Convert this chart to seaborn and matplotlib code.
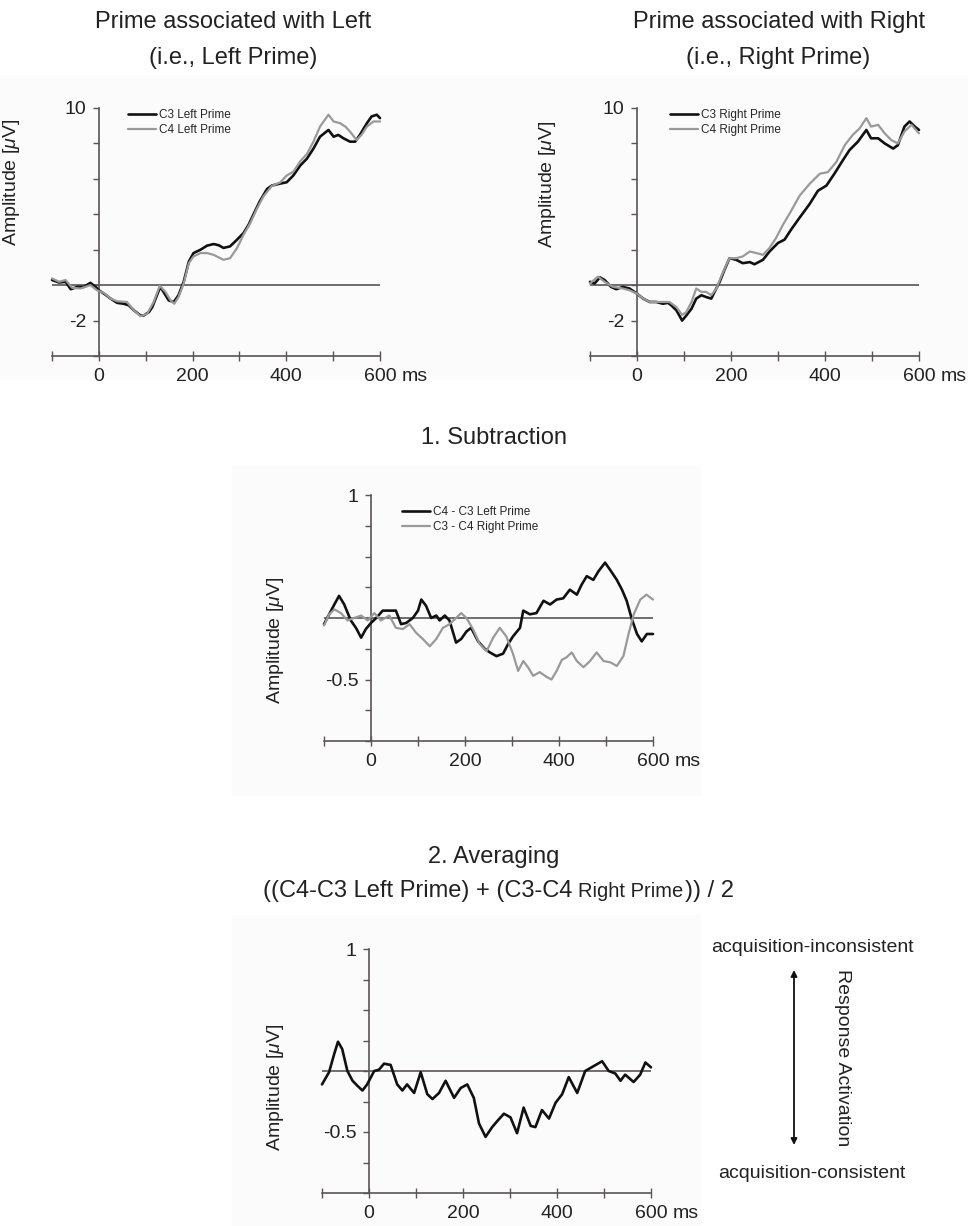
import numpy as np
import pandas as pd
import seaborn as sns
import matplotlib.pyplot as plt
from matplotlib.patches import Rectangle

# time points (ms) and amplitudes (uV)
t_c3_left = [-100, -85, -71, -60, -46, -32, -18, -7, 0, 11, 25, 39, 53, 64, 75, 89, 96, 107, 114,
             124, 131, 138, 149, 160, 170, 181, 192, 202, 217, 231, 245, 256, 266, 280, 295, 309,
             320, 330, 344, 359, 369, 383, 401, 415, 430, 444, 458, 472, 490, 501, 511, 522, 536,
             547, 557, 572, 582, 593, 600]
c3_left = [0.29, 0.15, 0.19, -0.23, -0.10, -0.10, 0.13, -0.10, -0.29, -0.48, -0.76, -1.00, -1.05,
           -1.14, -1.43, -1.71, -1.71, -1.52, -1.24, -0.57, -0.10, -0.38, -0.86, -0.95, -0.57, 0.19,
           1.33, 1.81, 2.00, 2.23, 2.32, 2.25, 2.10, 2.19, 2.57, 2.95, 3.43, 4.00, 4.76, 5.43, 5.62,
           5.71, 5.81, 6.19, 6.76, 7.14, 7.71, 8.38, 8.76, 8.38, 8.48, 8.29, 8.10, 8.10, 8.48, 9.14,
           9.52, 9.62, 9.43]

t_c4_left = [-100, -85, -71, -57, -39, -18, -4, 11, 25, 39, 60, 75, 89, 103, 117, 130, 142, 153,
             161, 170, 181, 192, 202, 217, 231, 245, 266, 280, 295, 309, 323, 337, 351, 369, 387,
             401, 415, 430, 444, 458, 472, 490, 501, 515, 526, 536, 550, 561, 572, 586, 600]
c4_left = [0.38, 0.19, 0.29, -0.15, -0.19, 0.00, -0.29, -0.44, -0.76, -0.91, -0.95, -1.43, -1.75,
           -1.62, -0.95, -0.04, -0.38, -0.86, -1.05, -0.67, 0.10, 1.24, 1.62, 1.81, 1.81, 1.71,
           1.43, 1.52, 2.10, 2.86, 3.50, 4.30, 5.00, 5.60, 5.80, 6.19, 6.40, 7.00, 7.40, 8.10,
           8.95, 9.62, 9.24, 9.14, 8.95, 8.67, 8.19, 8.50, 8.95, 9.24, 9.24]

t_c3_right = [-100, -90, -79, -69, -55, -44, -30, -16, 0, 13, 27, 41, 55, 66, 73, 84, 96, 105, 116,
              126, 137, 147, 158, 165, 176, 186, 197, 211, 225, 240, 250, 268, 282, 300, 314, 328,
              346, 367, 385, 403, 420, 438, 452, 470, 488, 498, 513, 527, 545, 555, 569, 580, 591,
              600]
c3_right = [0.19, 0.10, 0.44, 0.29, -0.10, -0.23, -0.10, -0.19, -0.48, -0.76, -0.95, -0.95, -1.05,
            -1.00, -1.14, -1.43, -2.00, -1.71, -1.33, -0.76, -0.57, -0.67, -0.76, -0.38, 0.19, 0.86,
            1.52, 1.43, 1.24, 1.30, 1.18, 1.43, 1.90, 2.38, 2.57, 3.14, 3.81, 4.57, 5.33, 5.62,
            6.29, 7.05, 7.62, 8.10, 8.76, 8.29, 8.29, 8.00, 7.71, 7.90, 8.95, 9.24, 8.95, 8.76]

t_c4_right = [-100, -83, -69, -51, -30, -16, 0, 13, 27, 48, 69, 84, 96, 105, 116, 126, 137, 147,
              158, 169, 179, 190, 197, 211, 225, 240, 254, 268, 282, 296, 311, 328, 346, 367, 389,
              406, 424, 442, 459, 474, 488, 498, 513, 527, 541, 555, 569, 584, 600]
c4_right = [0.10, 0.48, 0.19, -0.10, -0.19, -0.29, -0.48, -0.76, -0.95, -0.95, -0.95, -1.24, -1.68,
            -1.52, -0.95, -0.19, -0.38, -0.38, -0.57, -0.19, 0.48, 1.14, 1.52, 1.52, 1.62, 1.90,
            1.81, 1.71, 2.10, 2.67, 3.43, 4.19, 5.05, 5.71, 6.29, 6.38, 6.95, 7.90, 8.48, 8.86,
            9.43, 8.95, 9.05, 8.57, 8.19, 8.00, 8.67, 9.05, 8.57]

t_diff_left = [-100, -89, -78, -68, -57, -43, -32, -21, -11, 0, 11, 25, 39, 53, 64, 75, 89, 100,
               107, 117, 128, 139, 146, 157, 167, 181, 192, 203, 213, 228, 242, 253, 267, 281, 292,
               302, 317, 324, 338, 352, 367, 381, 395, 409, 423, 438, 448, 459, 473, 484, 498, 509,
               523, 534, 544, 555, 566, 576, 587, 600]
diff_left = [-0.05, 0.03, 0.11, 0.18, 0.11, -0.02, -0.08, -0.16, -0.09, -0.04, 0.00, 0.06, 0.06,
             0.06, -0.05, -0.04, 0.00, 0.06, 0.15, 0.10, 0.00, 0.02, -0.02, 0.02, -0.02, -0.20,
             -0.17, -0.11, -0.08, -0.19, -0.25, -0.28, -0.31, -0.29, -0.21, -0.15, -0.08, 0.06,
             0.03, 0.04, 0.14, 0.11, 0.15, 0.16, 0.23, 0.19, 0.27, 0.34, 0.31, 0.38, 0.45, 0.39,
             0.31, 0.23, 0.14, -0.01, -0.13, -0.19, -0.13, -0.13]

t_diff_right = [-100, -89, -78, -64, -50, -36, -21, -7, 7, 21, 39, 53, 68, 82, 96, 110, 125, 139,
                153, 167, 181, 192, 203, 217, 231, 246, 260, 274, 288, 302, 313, 324, 334, 345,
                359, 374, 384, 395, 406, 416, 427, 438, 452, 466, 480, 495, 509, 523, 537, 548,
                559, 573, 586, 600]
diff_right = [-0.06, 0.03, 0.07, 0.04, -0.02, 0.00, 0.02, -0.02, 0.04, -0.02, 0.02, -0.08, -0.09,
              -0.05, -0.12, -0.17, -0.23, -0.17, -0.08, -0.05, 0.00, 0.04, 0.00, -0.09, -0.21,
              -0.27, -0.16, -0.08, -0.15, -0.29, -0.43, -0.35, -0.40, -0.47, -0.44, -0.48, -0.50,
              -0.43, -0.34, -0.32, -0.28, -0.35, -0.40, -0.35, -0.28, -0.35, -0.36, -0.39, -0.31,
              -0.13, 0.03, 0.15, 0.19, 0.15]

t_avg = [-100, -85, -74, -66, -57, -46, -35, -25, -14, -4, 11, 21, 32, 46, 60, 71, 81, 96, 110,
         124, 135, 149, 163, 181, 195, 209, 223, 234, 248, 262, 273, 287, 301, 315, 329, 344, 354,
         368, 383, 397, 411, 425, 443, 460, 478, 496, 510, 524, 535, 545, 563, 577, 588, 600]
avg = [-0.11, -0.01, 0.14, 0.24, 0.18, 0.00, -0.08, -0.12, -0.16, -0.11, 0.00, 0.01, 0.06, 0.05,
       -0.11, -0.16, -0.11, -0.18, -0.01, -0.19, -0.23, -0.18, -0.08, -0.22, -0.14, -0.11, -0.22,
       -0.43, -0.54, -0.46, -0.41, -0.35, -0.38, -0.51, -0.30, -0.45, -0.46, -0.32, -0.39, -0.26,
       -0.19, -0.05, -0.18, 0.00, 0.04, 0.08, 0.00, -0.02, -0.08, -0.03, -0.09, -0.03, 0.07, 0.03]

x_ticks = [-100, 0, 100, 200, 300, 400, 500, 600]
x_ticklabels = ['', '0', '', '200', '', '400', '', '600']

sns.set_theme(style='white')
plt.rcParams['font.family'] = ['Liberation Sans', 'DejaVu Sans']
plt.rcParams['mathtext.fontset'] = 'custom'
plt.rcParams['mathtext.it'] = 'Liberation Sans:italic'
plt.rcParams['mathtext.rm'] = 'Liberation Sans'

W, H = 968, 1226
AXC = '#5a5555'
TXT = '#222222'


def fx(px):
    return px / W


def fy(py):
    return 1 - py / H


def draw_panel(rect, traces, ylim, yticks, ylabels, label_pos, legend_pos=None):
    left, right, top, bottom = rect
    ax = fig.add_axes([fx(left), fy(bottom), fx(right - left), (bottom - top) / H])
    ax.set_facecolor('none')
    for t, v, name, col, lw in traces:
        df = pd.DataFrame({'ms': t, 'uV': v})
        sns.lineplot(data=df, x='ms', y='uV', color=col, lw=lw, label=name,
                     estimator=None, sort=False, ax=ax, clip_on=False, zorder=3)
    ax.axhline(0, color=AXC, lw=1.2, zorder=2)
    ax.set_xlim(-100, 600)
    ax.set_ylim(*ylim)
    for s in ['top', 'right']:
        ax.spines[s].set_visible(False)
    ax.spines['left'].set_position(('data', 0))
    for s in ['left', 'bottom']:
        ax.spines[s].set_color(AXC)
        ax.spines[s].set_linewidth(1.2)
    ax.set_xticks(x_ticks)
    ax.set_xticklabels(x_ticklabels)
    ax.set_yticks(yticks)
    ax.set_yticklabels(ylabels)
    ax.tick_params(axis='y', direction='out', length=4, width=1, color=AXC,
                   labelsize=14, labelcolor=TXT, pad=5, left=True)
    ax.tick_params(axis='x', direction='inout', length=7, width=1, color=AXC,
                   labelsize=14, labelcolor=TXT, pad=5, bottom=True)
    ax.set_xlabel('')
    ax.set_ylabel('Amplitude [$\\mu$V]', fontsize=14, color=TXT)
    ax.yaxis.set_label_coords(*label_pos)
    ax.annotate('ms', xy=(600, ylim[0]), xytext=(15.5, -8.5), textcoords='offset points',
                ha='left', va='top', fontsize=14, color=TXT, annotation_clip=False)
    if legend_pos is not None:
        ax.legend(loc='upper left', bbox_to_anchor=legend_pos, frameon=False, fontsize=8.5,
                  handlelength=2.4, handletextpad=0.2, labelspacing=0.25, borderpad=0,
                  borderaxespad=0)
    elif ax.get_legend() is not None:
        ax.get_legend().remove()
    return ax


fig = plt.figure(figsize=(W / 100, H / 100), dpi=100)

# faint scan-like backgrounds behind the panels
for (x0, y0, x1, y1) in [(0, 75, 968, 378), (232, 466, 700, 795), (232, 915, 700, 1226)]:
    fig.add_artist(Rectangle((fx(x0), fy(y1)), fx(x1 - x0), (y1 - y0) / H,
                             transform=fig.transFigure, color='#fbfbfb', zorder=-5))

big_ticks = list(range(-4, 11, 2))
big_labels = ['' if v not in (10, -2) else str(v) for v in big_ticks]
small_ticks = [-1, -0.75, -0.5, -0.25, 0, 0.25, 0.5, 0.75, 1]
small_labels = ['', '', '-0.5', '', '', '', '', '', '1']

draw_panel((52, 380, 108, 356),
           [(t_c3_left, c3_left, 'C3 Left Prime', '#111111', 1.9),
            (t_c4_left, c4_left, 'C4 Left Prime', '#999999', 1.6)],
           (-4, 10), big_ticks, big_labels, (-0.091, 0.70), (0.232, 0.995))

draw_panel((590, 919, 108, 356),
           [(t_c3_right, c3_right, 'C3 Right Prime', '#111111', 1.9),
            (t_c4_right, c4_right, 'C4 Right Prime', '#999999', 1.6)],
           (-4, 10), big_ticks, big_labels, (-0.097, 0.69), (0.243, 0.995))

draw_panel((324, 653, 495, 741),
           [(t_diff_left, diff_left, 'C4 - C3 Left Prime', '#111111', 1.9),
            (t_diff_right, diff_right, 'C3 - C4 Right Prime', '#999999', 1.6)],
           (-1, 1), small_ticks, small_labels, (-0.116, 0.41), (0.237, 0.955))

draw_panel((322, 651, 949, 1193),
           [(t_avg, avg, None, '#111111', 1.9)],
           (-1, 1), small_ticks, small_labels, (-0.109, 0.434))

# titles
fig.text(fx(233), fy(22), 'Prime associated with Left', ha='center', va='center',
         fontsize=17, color=TXT)
fig.text(fx(233), fy(58), '(i.e., Left Prime)', ha='center', va='center', fontsize=17, color=TXT)
fig.text(fx(779), fy(22), 'Prime associated with Right', ha='center', va='center',
         fontsize=17, color=TXT)
fig.text(fx(778), fy(58), '(i.e., Right Prime)', ha='center', va='center', fontsize=17, color=TXT)
fig.text(fx(494), fy(438), '1. Subtraction', ha='center', va='center', fontsize=17, color=TXT)
fig.text(fx(494), fy(857), '2. Averaging', ha='center', va='center', fontsize=17, color=TXT)

# formula line, "Right Prime" set a little smaller, all parts on one baseline
base_y = fy(897)
t1 = fig.text(fx(263), base_y, '((C4-C3 Left Prime) + (C3-C4', ha='left', va='baseline',
              fontsize=17, color=TXT)
fig.canvas.draw()
x_end = t1.get_window_extent().x1
t2 = fig.text((x_end + 6) / W, base_y, 'Right Prime', ha='left', va='baseline',
              fontsize=14.5, color=TXT)
fig.canvas.draw()
x_end = t2.get_window_extent().x1
fig.text((x_end + 1) / W, base_y, ')) / 2', ha='left', va='baseline', fontsize=17, color=TXT)

# response activation arrow
fig.text(fx(812), fy(948), 'acquisition-inconsistent', ha='center', va='center',
         fontsize=14, color=TXT)
fig.text(fx(812), fy(1173), 'acquisition-consistent', ha='center', va='center',
         fontsize=14, color=TXT)
fig.text(fx(842), fy(1058), 'Response Activation', ha='center', va='center', rotation=-90,
         fontsize=14, color=TXT)
fig.add_artist(plt.Annotation('', xy=(fx(794), fy(970)), xytext=(fx(794), fy(1145)),
                              xycoords='figure fraction', textcoords='figure fraction',
                              arrowprops=dict(arrowstyle='<|-|>', color='#111111', lw=1.3,
                                              mutation_scale=9, shrinkA=0, shrinkB=0)))

fig.savefig('out.png', dpi=100)
